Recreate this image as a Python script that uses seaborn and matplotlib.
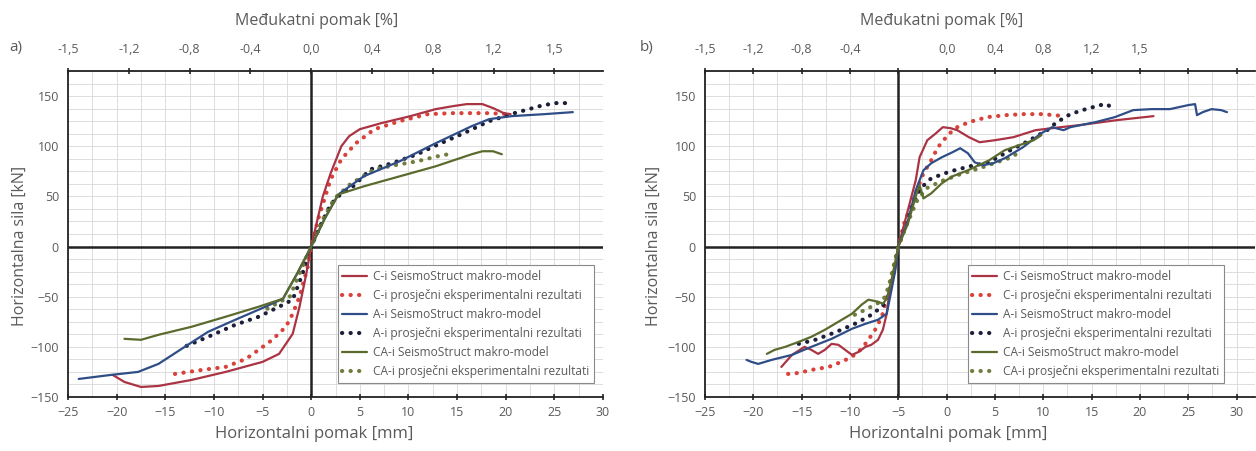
import matplotlib
matplotlib.use('Agg')
import matplotlib.pyplot as plt
import seaborn as sns
import numpy as np

# Series labels and colours
labels = ['C-i SeismoStruct makro-model', 'C-i prosječni eksperimentalni rezultati',
          'A-i SeismoStruct makro-model', 'A-i prosječni eksperimentalni rezultati',
          'CA-i SeismoStruct makro-model', 'CA-i prosječni eksperimentalni rezultati']
colors = ['#ab3444', '#d8423a', '#2f4d86', '#1c1f3a', '#5b6b2e', '#6f7d3e']
dotted = [False, True, False, True, False, True]

# Panel a) data [mm, kN]
a_c_model_x = [-20.4, -19.2, -17.5, -15.7, -12.3, -8.8, -5.0, -3.3, -1.9, -1.2, -0.5, 0, 0.6, 1.2, 2.0, 3.1, 3.9, 5.0, 7.2, 10.2, 12.8, 14.6, 16.0, 17.6, 18.7, 19.8, 20.5]
a_c_model_y = [-128, -135, -140, -139, -133, -125, -115, -107, -87, -60, -27, 0, 25, 50, 73, 100, 110, 117, 123, 130, 137, 140, 142, 142, 138, 133, 132]
a_c_exp_x = [-14, -11.2, -8.8, -6.7, -5.4, -4, -2.6, -1.9, -1.2, -0.35, 0, 0.8, 2, 3.1, 4.6, 6.5, 9.1, 12, 14.6, 18.3, 20.2]
a_c_exp_y = [-127, -123, -120, -112, -103, -93, -80, -67, -50, -20, 0, 30, 67, 87, 103, 117, 125, 132, 133, 133, 132]
a_a_model_x = [-23.9, -20.6, -17.8, -15.7, -13, -10.6, -7.8, -4.7, -2.9, -1.5, 0, 1.4, 2.8, 5.4, 9.1, 12.8, 16.5, 18.3, 20.6, 24, 26.9]
a_a_model_y = [-132, -128, -125, -117, -100, -85, -73, -60, -52, -28, 0, 28, 52, 70, 85, 103, 120, 127, 130, 132, 134]
a_a_exp_x = [-12.8, -10.6, -7.8, -5.4, -3.3, -1.9, -1, 0, 1, 2, 3, 4.3, 6.1, 8.3, 10.9, 13.1, 15.7, 18.3, 20.9, 23.5, 25, 26.1, 26.7]
a_a_exp_y = [-99, -90, -78, -70, -60, -53, -30, 0, 22, 42, 52, 60, 77, 83, 92, 102, 113, 125, 133, 140, 143, 143, 138]
a_ca_model_x = [-19.2, -17.5, -15.7, -12.3, -8.8, -5.4, -2.9, -1.5, 0, 1.4, 2.8, 5.4, 9.1, 12.8, 16.5, 17.6, 18.7, 19.6]
a_ca_model_y = [-92, -93, -88, -80, -70, -60, -52, -28, 0, 28, 52, 60, 70, 80, 92, 95, 95, 92]
a_ca_exp_x = [-4.5, -3, -2.2, -1.2, 0, 1.2, 2.4, 4, 6.5, 9.1, 10.9, 13, 14.6]
a_ca_exp_y = [-62, -54, -50, -27, 0, 27, 48, 62, 77, 82, 85, 90, 93]

# Panel b) data [mm, kN]
b_c_model_x = [-17.1, -16, -14.7, -14, -13.3, -12.6, -11.9, -11.2, -10.5, -9.8, -9.1, -8.4, -7.8, -7.1, -6.6, -6.2, -5.9, -5.3, -5, -4.1, -3.2, -2.8, -2.0, -1.1, -0.4, 0.4, 1.1, 2.3, 3.4, 5.0, 6.9, 9.2, 11.8, 13.7, 17.6, 21.4]
b_c_model_y = [-120, -108, -100, -103, -107, -103, -97, -98, -103, -108, -105, -100, -98, -93, -83, -67, -43, -20, 0, 33, 66, 89, 106, 113, 119, 118, 116, 109, 104, 106, 109, 116, 119, 121, 126, 130]
b_c_exp_x = [-16.4, -15.3, -14, -12.2, -10.9, -9.8, -8.8, -8.1, -7.4, -6.7, -6, -5.3, -5, -4.4, -3.5, -2.4, -1.6, -0.9, 0.2, 1.1, 2.3, 4.2, 6.1, 8.0, 9.9, 12.2]
b_c_exp_y = [-127, -126, -123, -120, -115, -110, -102, -93, -83, -70, -43, -13, 0, 23, 46, 73, 86, 99, 112, 119, 124, 129, 131, 132, 132, 130]
b_a_model_x = [-20.7, -20.2, -19.5, -18.1, -16, -14, -11.9, -9.8, -8.4, -7.1, -6.2, -5.7, -5.3, -5, -4.0, -3.2, -2.4, -1.6, -0.5, 0.6, 1.4, 2.2, 2.9, 3.7, 4.8, 6.0, 7.9, 9.8, 10.9, 12.1, 12.8, 15.4, 17.4, 19.3, 21.2, 23.1, 25.0, 25.7, 25.9, 26.5, 27.4, 28.4, 29.0]
b_a_model_y = [-113, -115, -117, -113, -108, -100, -92, -82, -77, -73, -67, -43, -23, 0, 26, 56, 76, 83, 89, 94, 98, 93, 84, 81, 83, 88, 99, 113, 119, 116, 119, 124, 129, 136, 137, 137, 141, 142, 131, 134, 137, 136, 134]
b_a_exp_x = [-15.3, -13.6, -12.2, -10.9, -9.5, -8.1, -7.1, -6.4, -5.7, -5, -3.8, -2.7, -1.6, 0.4, 2.4, 4.4, 6.4, 8.4, 10.4, 11.4, 12.8, 14.4, 15.9, 16.6, 17.2]
b_a_exp_y = [-97, -93, -88, -83, -77, -70, -63, -57, -37, 0, 35, 58, 68, 75, 80, 84, 95, 105, 116, 124, 132, 137, 141, 142, 137]
b_ca_model_x = [-18.6, -17.8, -16.7, -15.3, -14, -12.6, -11.2, -9.8, -8.8, -8.1, -7.1, -6.6, -6.2, -5.7, -5, -4.0, -3.2, -2.8, -2.4, -1.6, -0.5, 0.6, 2.2, 3.3, 4.4, 6.0, 7.5, 9.0, 9.8]
b_ca_model_y = [-107, -103, -100, -95, -90, -83, -75, -67, -58, -53, -55, -57, -52, -33, 0, 23, 50, 61, 48, 53, 63, 70, 76, 81, 86, 96, 101, 106, 111]
b_ca_exp_x = [-9.5, -8.2, -7.2, -6.5, -6, -5.5, -5, -4.2, -3.1, -2.1, -0.6, 1.4, 3.4, 5.2, 6.4, 7.4]
b_ca_exp_y = [-68, -62, -57, -52, -40, -20, 0, 20, 45, 58, 65, 72, 78, 84, 88, 93]

# Top axis (drift) ticks
a_top_pos = [-25, -18.75, -12.5, -6.25, 0, 6.25, 12.5, 18.75, 25]
a_top_lab = ['-1,5', '-1,2', '-0,8', '-0,4', '0,0', '0,4', '0,8', '1,2', '1,5']
b_top_pos = [-25, -20, -15, -10, -5, 0, 5, 10, 15, 20, 25, 30]
b_top_lab = ['-1,5', '-1,2', '-0,8', '-0,4', '', '0,0', '0,4', '0,8', '1,2', '1,5', '', '']

x_ticks = np.arange(-25, 31, 5)
y_ticks = np.arange(-150, 151, 50)

TXT = '#5a5a5a'
Y_TOP = 175


def draw_panel(ax, series, x_zero, xlim, top_pos, top_lab, leg_x):
    """ Draws one force-displacement panel with drift axis on top. """
    for (xs, ys), lab, col, dot in zip(series, labels, colors, dotted):
        if dot:
            sns.lineplot(x=xs, y=ys, ax=ax, sort=False, estimator=None, color=col,
                         lw=3.0, linestyle=(0, (0.05, 2.0)), dash_capstyle='round',
                         label=lab, zorder=4)
        else:
            sns.lineplot(x=xs, y=ys, ax=ax, sort=False, estimator=None, color=col,
                         lw=1.6, label=lab, zorder=5)

    ax.set_xlim(xlim)
    ax.set_ylim(-150, Y_TOP)
    ax.set_xticks(x_ticks)
    ax.set_yticks(y_ticks)
    ax.set_xticks(np.arange(-25, xlim[1] + 0.01, 2.5), minor=True)
    ax.set_yticks(np.arange(-150, Y_TOP + 0.1, 12.5), minor=True)
    ax.grid(which='both', color='#d8d8d8', lw=0.6)
    ax.set_axisbelow(True)
    ax.tick_params(which='minor', length=0)
    ax.tick_params(which='major', direction='inout', length=5, width=1.2,
                   labelsize=9, labelcolor=TXT, pad=4)
    ax.axhline(0, color='#222222', lw=1.8, zorder=3)
    ax.axvline(x_zero, color='#222222', lw=1.8, zorder=3)
    for side in ['left', 'bottom']:
        ax.spines[side].set_color('#222222')
        ax.spines[side].set_linewidth(1.3)
    ax.spines['right'].set_visible(False)
    ax.spines['top'].set_visible(False)
    ax.set_xlabel('')
    ax.set_ylabel('')

    ax.legend(loc='lower right', bbox_to_anchor=(leg_x, 0.025), fontsize=8.6,
              frameon=True, fancybox=False, edgecolor='#8a8a8a', framealpha=1,
              handlelength=2.1, handletextpad=0.5, labelspacing=0.5,
              borderpad=0.4, labelcolor=TXT)
    ax.get_legend().get_frame().set_linewidth(0.8)

    # Drift axis on top
    top = ax.twiny()
    top.set_xlim(xlim)
    top.set_xticks(top_pos)
    top.set_xticklabels(top_lab)
    top.tick_params(direction='inout', length=5, width=1.2, labelsize=9,
                    labelcolor=TXT, pad=8)
    for side in ['left', 'right', 'bottom']:
        top.spines[side].set_visible(False)
    top.spines['top'].set_color('#222222')
    top.spines['top'].set_linewidth(1.3)


sns.set_style('white')
plt.rcParams['font.family'] = ['Open Sans', 'DejaVu Sans']

fig = plt.figure(figsize=(12.56, 4.51), dpi=100)
ax_a = fig.add_axes([68 / 1256, 1 - 397 / 451, 535 / 1256, 326 / 451])
ax_b = fig.add_axes([705 / 1256, 1 - 397 / 451, 550 / 1256, 326 / 451])

series_a = [(a_c_model_x, a_c_model_y), (a_c_exp_x, a_c_exp_y),
            (a_a_model_x, a_a_model_y), (a_a_exp_x, a_a_exp_y),
            (a_ca_model_x, a_ca_model_y), (a_ca_exp_x, a_ca_exp_y)]
series_b = [(b_c_model_x, b_c_model_y), (b_c_exp_x, b_c_exp_y),
            (b_a_model_x, b_a_model_y), (b_a_exp_x, b_a_exp_y),
            (b_ca_model_x, b_ca_model_y), (b_ca_exp_x, b_ca_exp_y)]

draw_panel(ax_a, series_a, 0, (-25, 30), a_top_pos, a_top_lab, 0.995)
draw_panel(ax_b, series_b, -5, (-25, 31.9), b_top_pos, b_top_lab, 0.955)

# Labels
for bx, tx in [(314, 317), (948, 942)]:
    fig.text(bx / 1256, 1 - 434 / 451, 'Horizontalni pomak [mm]', ha='center', va='center',
             fontsize=12, color=TXT)
    fig.text(tx / 1256, 1 - 21 / 451, 'Međukatni pomak [%]', ha='center', va='center',
             fontsize=11.5, color=TXT)
fig.text(20 / 1256, 1 - 246 / 451, 'Horizontalna sila [kN]', rotation=90, ha='center',
         va='center', fontsize=11.5, color=TXT)
fig.text(654 / 1256, 1 - 246 / 451, 'Horizontalna sila [kN]', rotation=90, ha='center',
         va='center', fontsize=11.5, color=TXT)
fig.text(16 / 1256, 1 - 48 / 451, 'a)', ha='center', va='center', fontsize=11, color=TXT)
fig.text(647 / 1256, 1 - 48 / 451, 'b)', ha='center', va='center', fontsize=11, color=TXT)

plt.savefig('out.png', dpi=100)
